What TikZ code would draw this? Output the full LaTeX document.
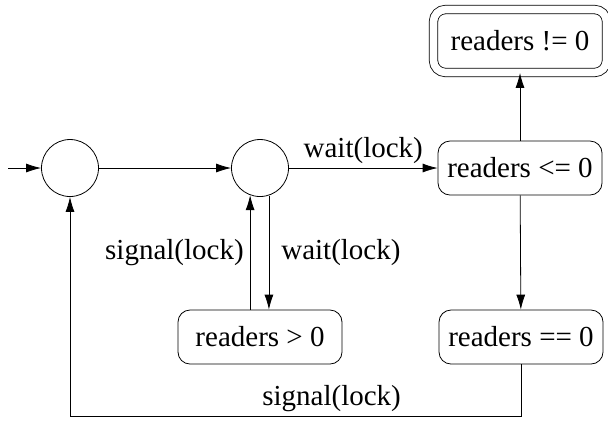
\documentclass[tikz,border=0pt]{standalone}
\usepackage{fontspec}
\setmainfont{Liberation Serif}
\usetikzlibrary{arrows.meta, positioning}

\begin{document}
\begin{tikzpicture}[x=0.5pt, y=-0.5pt, >={Latex[length=7.5pt,width=4.5pt]},
        every node/.style={font=\fontsize{14.5}{17}\selectfont},
        state/.style={circle, draw, minimum size=28.5pt, inner sep=0pt},
        cond/.style={rectangle, draw, rounded corners=6pt, minimum width=82pt, minimum height=27pt}]
        \useasboundingbox (0,0) rectangle (608,420);

        % Nodes
        \coordinate (entry) at (8,168);
        \node (start) [state] at (70,168) {};
        \node (mutex) [state] at (260,168) {};
        \node (le) [cond] at (520,168) {readers <= 0};
        \node (ne) [cond, double, double distance=3.8pt, minimum width=86.5pt, minimum height=31.5pt] at (520,41) {readers != 0};
        \node (gt) [cond] at (260,337) {readers > 0};
        \node (eq) [cond] at (521,337) {readers == 0};

        % Edges
        \draw[->] (entry) -- (start);
        \draw[->] (start) -- (mutex);
        \draw[->] (mutex) -- node[above, inner sep=2pt] {wait(lock)} (le);
        \draw[->] (le) -- (ne);
        \draw[->] (le) -- (eq);
        \draw[->] (gt.north -| mutex.-110) -- node[left, inner sep=3pt] {signal(lock)} (mutex.-110);
        \draw[->] (mutex.-72) -- node[right, inner sep=6pt] {wait(lock)} (mutex.-72 |- gt.north);
        \draw[->] (eq.south) -- ++(0,52) -| node[pos=0.21, above, inner sep=2pt] {signal(lock)} (start.south);
    \end{tikzpicture}
\end{document}
